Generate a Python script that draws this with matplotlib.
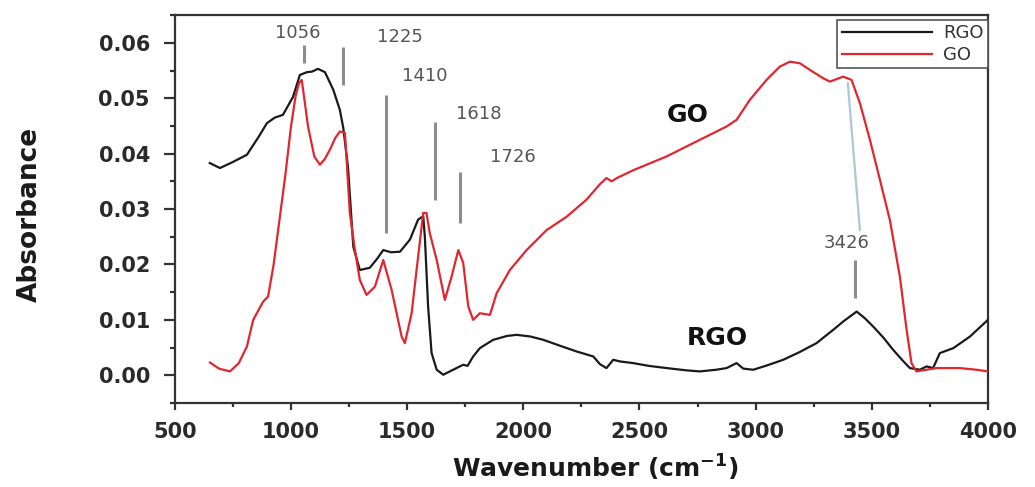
import matplotlib
matplotlib.use('Agg')
import matplotlib.pyplot as plt
from matplotlib.ticker import MultipleLocator

# FTIR spectra, wavenumber (cm-1) vs absorbance
rgo_wn = [650, 694, 750, 810, 860, 896, 930, 965, 1008, 1038, 1068, 1090, 1116, 1146,
          1182, 1210, 1225, 1245, 1268, 1296, 1339, 1370, 1397, 1430, 1469, 1512, 1547,
          1569, 1576, 1590, 1605, 1627, 1655, 1698, 1741, 1760, 1784, 1813, 1870, 1930,
          1971, 2030, 2086, 2160, 2229, 2301, 2330, 2358, 2387, 2416, 2473, 2540, 2617,
          2700, 2760, 2830, 2875, 2918, 2947, 2990, 3050, 3119, 3190, 3262, 3334, 3380,
          3435, 3470, 3506, 3550, 3592, 3630, 3664, 3707, 3736, 3764, 3793, 3851, 3923, 4000]
rgo_abs = [0.0383, 0.0374, 0.0385, 0.0398, 0.0430, 0.0455, 0.0465, 0.0470, 0.0502, 0.0542,
           0.0547, 0.0548, 0.0553, 0.0547, 0.0515, 0.0479, 0.0446, 0.0376, 0.0232, 0.0190,
           0.0194, 0.0210, 0.0226, 0.0222, 0.0223, 0.0245, 0.0281, 0.0287, 0.0250, 0.0124,
           0.0040, 0.0010, 0.0001, 0.0010, 0.0019, 0.0017, 0.0034, 0.0049, 0.0064, 0.0071,
           0.0073, 0.0070, 0.0064, 0.0053, 0.0043, 0.0034, 0.0020, 0.0013, 0.0028, 0.0025,
           0.0022, 0.0017, 0.0013, 0.0009, 0.0007, 0.0010, 0.0013, 0.0022, 0.0012, 0.0010,
           0.0018, 0.0028, 0.0042, 0.0058, 0.0082, 0.0098, 0.0115, 0.0103, 0.0088, 0.0068,
           0.0046, 0.0028, 0.0013, 0.0010, 0.0016, 0.0013, 0.0040, 0.0049, 0.0070, 0.0100]

go_wn = [651, 690, 737, 775, 810, 837, 880, 901, 925, 950, 975, 1000, 1020, 1034, 1046, 1060,
         1073, 1100, 1124, 1145, 1167, 1190, 1210, 1232, 1253, 1275, 1296, 1325, 1361,
         1397, 1433, 1476, 1490, 1519, 1547, 1569, 1583, 1597, 1627, 1662, 1691, 1720,
         1741, 1763, 1784, 1813, 1856, 1885, 1942, 2014, 2100, 2186, 2272, 2330, 2358,
         2380, 2403, 2473, 2617, 2760, 2875, 2918, 2975, 3047, 3104, 3148, 3191, 3234,
         3291, 3320, 3377, 3413, 3449, 3492, 3535, 3578, 3621, 3650, 3671, 3692, 3779,
         3879, 3951, 4000]
go_abs = [0.0023, 0.0012, 0.0007, 0.0022, 0.0052, 0.0100, 0.0133, 0.0142, 0.0200, 0.0280,
          0.0360, 0.0450, 0.0505, 0.0527, 0.0533, 0.0490, 0.0449, 0.0395, 0.0380, 0.0390,
          0.0407, 0.0428, 0.0440, 0.0437, 0.0293, 0.0226, 0.0172, 0.0145, 0.0160, 0.0208,
          0.0154, 0.0070, 0.0058, 0.0112, 0.0214, 0.0293, 0.0293, 0.0257, 0.0208, 0.0136,
          0.0178, 0.0226, 0.0203, 0.0124, 0.0100, 0.0112, 0.0109, 0.0148, 0.0190, 0.0226,
          0.0262, 0.0286, 0.0317, 0.0345, 0.0356, 0.0350, 0.0356, 0.0370, 0.0395, 0.0425,
          0.0449, 0.0461, 0.0497, 0.0533, 0.0557, 0.0566, 0.0563, 0.0551, 0.0536, 0.0530,
          0.0539, 0.0533, 0.0491, 0.0425, 0.0353, 0.0280, 0.0178, 0.0082, 0.0022, 0.0007,
          0.0013, 0.0013, 0.0010, 0.0007]

# marked band positions
peaks = [1056, 1225, 1410, 1618, 1726, 3426]
peak_labels = ['1056', '1225', '1410', '1618', '1726', '3426']

fig = plt.figure(figsize=(10.35, 4.87), dpi=100)
ax = fig.add_axes([0.169, 0.1725, 0.7855, 0.7965])

ax.plot(rgo_wn, rgo_abs, color='#1a1a1a', lw=1.6, label='RGO', zorder=3)
ax.plot(go_wn, go_abs, color='#e2262f', lw=1.6, label='GO', zorder=4)

# peak marker lines: (y bottom, y top) and label position
marker_span = [(0.0564, 0.0596), (0.0524, 0.0592), (0.0257, 0.0506),
               (0.0317, 0.0457), (0.0275, 0.0367), (0.0140, 0.0208)]
label_pos = [(1030, 0.0617), (1469, 0.0610), (1576, 0.0540),
             (1809, 0.0472), (1955, 0.0394), (3393, 0.0239)]
for p, lab, (y0, y1), (tx, ty) in zip(peaks, peak_labels, marker_span, label_pos):
    ax.plot([p, p], [y0, y1], color='#8c8c8c', lw=2.2, solid_capstyle='butt', zorder=2)
    ax.text(tx, ty, lab, fontsize=13, color='#555555', ha='center', va='center')

# pointer from the GO shoulder down to the 3426 label
ax.plot([3397, 3449], [0.0527, 0.0262], color='#a9c9d9', lw=1.6, zorder=2)

ax.text(2708, 0.047, 'GO', fontsize=18, fontweight='bold', color='#111111', ha='center', va='center')
ax.text(2833, 0.0068, 'RGO', fontsize=18, fontweight='bold', color='#111111', ha='center', va='center')

ax.set_xlim(500, 4000)
ax.set_ylim(-0.005, 0.065)
ax.xaxis.set_major_locator(MultipleLocator(500))
ax.xaxis.set_minor_locator(MultipleLocator(250))
ax.yaxis.set_major_locator(MultipleLocator(0.01))
ax.yaxis.set_minor_locator(MultipleLocator(0.005))
ax.yaxis.set_major_formatter(plt.FormatStrFormatter('%.2f'))

for s in ax.spines.values():
    s.set_color('#333333')
    s.set_linewidth(1.6)
ax.tick_params(axis='both', which='both', direction='out', color='#333333', width=1.6,
               labelcolor='#2a2a2a')
ax.tick_params(axis='y', which='major', length=8, pad=10, labelsize=15)
ax.tick_params(axis='y', which='minor', length=3.5)
ax.tick_params(axis='x', which='major', length=5, pad=9, labelsize=15)
ax.tick_params(axis='x', which='minor', length=3)
for lbl in ax.get_xticklabels() + ax.get_yticklabels():
    lbl.set_fontweight('bold')

ax.set_xlabel('Wavenumber (cm$^{\\mathregular{-1}}$)', fontsize=18, fontweight='bold', color='#1a1a1a')
ax.xaxis.set_label_coords(0.517, -0.128)
ax.xaxis.label.set_va('top')
ax.set_ylabel('Absorbance', fontsize=19, fontweight='bold', color='#1a1a1a')
ax.yaxis.set_label_coords(-0.162, 0.485)

leg = ax.legend(loc='upper right', bbox_to_anchor=(1.0, 0.988), borderaxespad=0,
                fancybox=False, edgecolor='#555555', framealpha=1, fontsize=13,
                handlelength=5.0, handletextpad=0.6, borderpad=0.25, labelspacing=0.2,
                labelcolor='#333333')
leg.get_frame().set_linewidth(1.2)

plt.savefig('out.png', dpi=100)
